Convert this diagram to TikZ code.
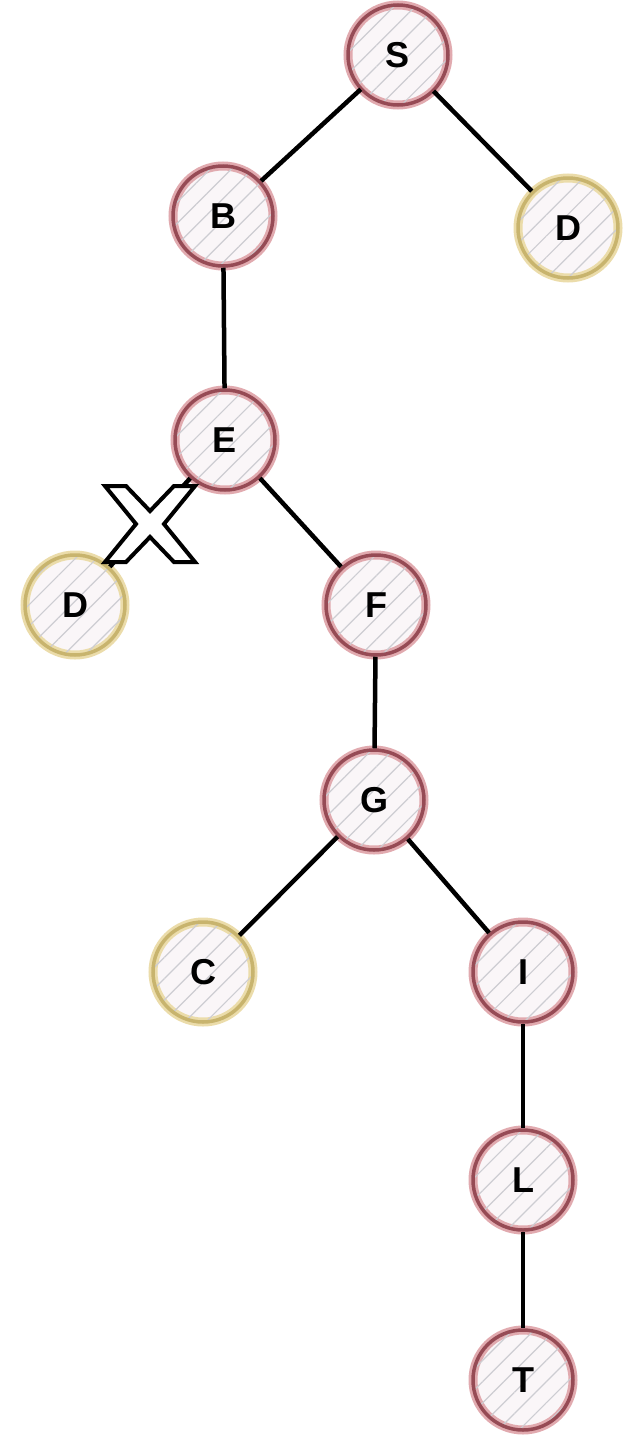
\documentclass[tikz,border=0pt]{standalone}
\usepackage{fontspec}
\setmainfont{Liberation Sans}
\usetikzlibrary{patterns.meta}
\definecolor{redring}{RGB}{150,75,85}
\definecolor{redhalo}{RGB}{225,170,175}
\definecolor{yelring}{RGB}{200,180,110}
\definecolor{yelhalo}{RGB}{235,220,170}
\definecolor{hatch}{RGB}{205,205,210}
\definecolor{innerfill}{RGB}{250,246,248}
\tikzset{
  tnode/.style={circle, minimum size=100pt, line width=3.5pt, inner sep=0pt,
    font=\fontsize{36}{36}\selectfont\bfseries,
    pattern={Lines[angle=45,distance=15pt,line width=1.2pt]}, pattern color=hatch},
  rednode/.style={tnode, draw=redring,
    preaction={draw=redhalo, line width=9pt, fill=innerfill}},
  yelnode/.style={tnode, draw=yelring,
    preaction={draw=yelhalo, line width=9pt, fill=innerfill}},
  edge/.style={line width=4.5pt, black},
  crossmark/.style={line width=4pt, black, fill=white, line join=miter},
}
\begin{document}
\begin{tikzpicture}[x=1pt,y=-1pt]
\useasboundingbox (0,0) rectangle (627,1440);
% nodes
\node[rednode] (S) at (398,55) {S};
\node[rednode] (B) at (223,216) {B};
\node[yelnode] (D1) at (568,228) {D};
\node[rednode] (E) at (225,440) {E};
\node[yelnode] (D2) at (75,605) {D};
\node[rednode] (F) at (376,605) {F};
\node[rednode] (G) at (374,800) {G};
\node[yelnode] (C) at (203,972) {C};
\node[rednode] (I) at (523,972) {I};
\node[rednode] (L) at (523,1180) {L};
\node[rednode] (T) at (523,1380) {T};
% edges
\draw[edge] (S) -- (B);
\draw[edge] (S) -- (D1);
\draw[edge] (B) -- (E);
\draw[edge] (E) -- (D2);
\draw[edge] (E) -- (F);
\draw[edge] (F) -- (G);
\draw[edge] (G) -- (C);
\draw[edge] (G) -- (I);
\draw[edge] (I) -- (L);
\draw[edge] (L) -- (T);
% cross mark
\coordinate (X) at (150,524);
\draw[crossmark, shift={(X)}]
  (-45,-38) -- (-24,-38) -- (0,-13) -- (24,-38) -- (45,-38) -- (14,0)
  -- (45,38) -- (24,38) -- (0,13) -- (-24,38) -- (-45,38) -- (-14,0) -- cycle;
\end{tikzpicture}
\end{document}
